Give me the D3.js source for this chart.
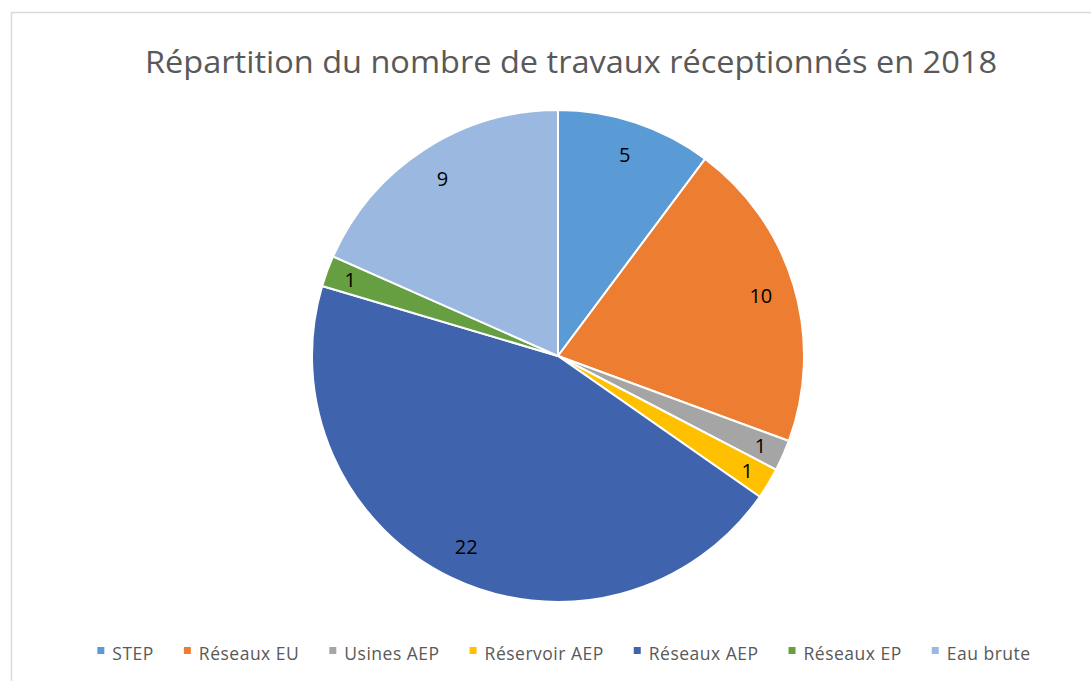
<!DOCTYPE html>
<html><head><meta charset="utf-8">
<script src="https://cdn.jsdelivr.net/npm/d3@7"></script>
<style>body{margin:0;background:#fff}svg{display:block}</style>
</head><body>
<svg id="c" width="1091" height="681"></svg>
<script>
const title = "Répartition du nombre de travaux réceptionnés en 2018";
const categories = ["STEP","Réseaux EU","Usines AEP","Réservoir AEP","Réseaux AEP","Réseaux EP","Eau brute"];
const values = [5,10,1,1,22,1,9];
const colors = ["#5B9BD5","#ED7D31","#A5A5A5","#FFC000","#3F64AD","#669F41","#9BB9E0"];

const svg = d3.select("#c");
const font = "'Open Sans', 'Noto Sans', sans-serif";

svg.append("rect").attr("x",11.5).attr("y",12.5).attr("width",1200).attr("height",800)
  .attr("fill","#fff").attr("stroke","#d9d9d9").attr("stroke-width",1.5);

const t = svg.append("text").attr("x",571).attr("y",73).attr("text-anchor","middle")
  .attr("font-family",font).attr("font-size",31).attr("fill","#595959").text(title);
t.attr("textLength",852).attr("lengthAdjust","spacingAndGlyphs");

const cx = 558, cy = 356, r = 246;
const pie = d3.pie().sort(null).value(d=>d.v);
const data = categories.map((c,i)=>({c, v:values[i], col:colors[i]}));
const arcs = pie(data);
const arc = d3.arc().innerRadius(0).outerRadius(r);
const g = svg.append("g").attr("transform",`translate(${cx},${cy})`);
g.selectAll("path").data(arcs).join("path").attr("d",arc)
  .attr("fill",d=>d.data.col).attr("stroke","#fff").attr("stroke-width",2);

g.selectAll("text.lbl").data(arcs).join("text").attr("class","lbl")
  .attr("transform",d=>{
    const lr = d.data.v <= 1 ? r*0.9 : r*0.86;
    const a = (d.startAngle+d.endAngle)/2;
    return `translate(${Math.sin(a)*lr},${-Math.cos(a)*lr})`;
  })
  .attr("text-anchor","middle").attr("dy","0.36em")
  .attr("font-family",font).attr("font-size",20).attr("fill","#000")
  .text(d=>d.data.v);

// legend
const lg = svg.append("g");
const items = lg.selectAll("g").data(data).join("g");
items.append("rect").attr("width",7).attr("height",7).attr("y",-13).attr("fill",d=>d.col);
items.append("text").attr("x",15).attr("y",0).attr("font-family",font).attr("font-size",17.5)
  .attr("letter-spacing",0.5).attr("fill","#595959").text(d=>d.c);
let x = 0;
const gap = 30;
items.each(function(){
  const w = d3.select(this).select("text").node().getComputedTextLength();
  d3.select(this).attr("transform",`translate(${x},0)`);
  x += 15 + w + gap;
});
const total = x - gap;
lg.attr("transform",`translate(${564 - total/2},660)`);
</script>
</body></html>
